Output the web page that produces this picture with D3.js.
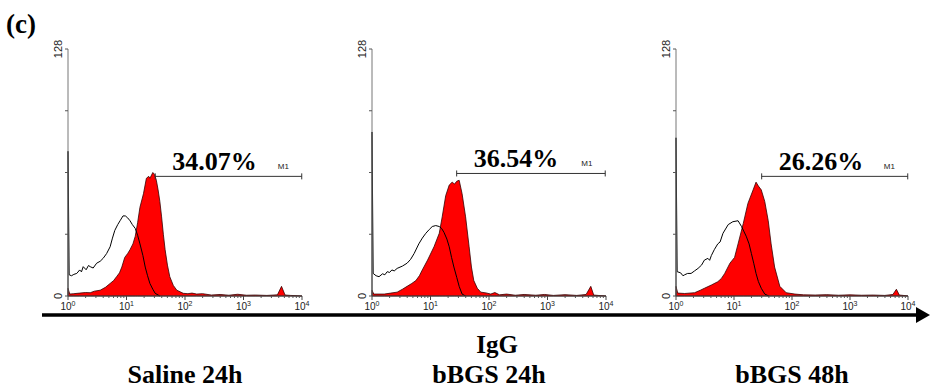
<!DOCTYPE html>
<html>
<head>
<meta charset="utf-8">
<script src="https://cdn.jsdelivr.net/npm/d3@7"></script>
<style>
  body { margin: 0; background: #fff; }
  svg { display: block; }
</style>
</head>
<body>
<svg width="930" height="389"></svg>
<script>
'use strict';

// one panel per sample
var samples = ["Saline 24h", "bBGS 24h", "bBGS 48h"];
var gatedPercent = [34.07, 36.54, 26.26];
// M1 gate: start fluorescence, end fluorescence, drawn level (counts)
var gateFrom = [31, 28, 30];
var gateTo = [9900, 9700, 9900];
var gateLevel = [62, 63.5, 62];

var countTicks = [0, 32, 64, 96, 128];
var decades = [0, 1, 2, 3, 4];

// histograms as [log10 fluorescence, events]; control = open trace, stained = red fill
var control1 = [[0,0],[0,75],[0.02,11],[0.06,10.5],[0.1,11.2],[0.15,11.7],[0.2,13.5],[0.23,12.5],[0.26,15.2],[0.31,13.6],[0.35,15.8],[0.38,15.2],[0.43,14.5],[0.49,17],[0.55,18],[0.60,19.5],[0.66,22],[0.72,25.5],[0.76,30],[0.80,34],[0.85,37],[0.89,39],[0.94,41.5],[0.98,41.5],[1.02,40.5],[1.06,39],[1.1,37],[1.15,35],[1.19,31.5],[1.23,27],[1.28,21],[1.32,15],[1.36,10.5],[1.40,6.5],[1.45,3.5],[1.49,1.4],[1.57,0]];
var stained1 = [[0,0],[0,4],[0.03,1],[0.1,1.2],[0.2,1.5],[0.3,1.8],[0.38,1.7],[0.45,2.5],[0.55,3],[0.64,4.5],[0.72,6.5],[0.78,8],[0.83,10],[0.88,12],[0.92,15],[0.97,20],[1.02,22],[1.06,24],[1.11,27],[1.15,31],[1.19,38],[1.23,46],[1.29,53],[1.34,61],[1.38,62],[1.40,61],[1.45,64],[1.48,63],[1.51,60],[1.54,55],[1.57,49],[1.60,41],[1.63,32],[1.66,24],[1.70,16],[1.74,10],[1.80,5.5],[1.86,3],[1.97,1.4],[2.05,1.2],[2.12,1.5],[2.2,1.0],[2.3,1.2],[2.45,0.5],[2.6,0.8],[2.75,0.4],[2.9,0.9],[3.05,0.4],[3.2,0.5],[3.4,0.3],[3.58,0.6],[3.65,5],[3.71,0.5],[3.8,0.3],[4,0]];

var control2 = [[0,0],[0,85],[0.02,11.7],[0.07,10.5],[0.12,10],[0.18,11.5],[0.22,11],[0.26,12.6],[0.3,12.2],[0.34,13.5],[0.38,13],[0.43,14.3],[0.52,15.5],[0.60,17],[0.66,19],[0.72,22],[0.80,27],[0.86,30],[0.92,32.5],[0.98,34.5],[1.03,36],[1.09,36.5],[1.15,36],[1.19,35],[1.23,33],[1.28,29.5],[1.32,25.5],[1.36,20],[1.40,15],[1.45,9.5],[1.49,5],[1.54,1],[1.6,0]];
var stained2 = [[0,0],[0,3],[0.03,1],[0.21,1],[0.32,1.5],[0.43,2],[0.52,3.5],[0.60,5],[0.68,6.5],[0.75,8],[0.81,10.5],[0.86,13.5],[0.95,18.6],[1.06,25.5],[1.15,32.5],[1.20,41],[1.26,52],[1.32,57.5],[1.37,59],[1.41,58],[1.45,59.5],[1.49,60],[1.54,53],[1.60,41],[1.66,25.5],[1.70,15],[1.74,8],[1.80,4],[1.86,2],[1.95,1.6],[2.03,1],[2.1,1.8],[2.18,0.6],[2.3,1],[2.45,0.4],[2.6,0.8],[2.8,0.4],[2.95,0.8],[3.1,0.3],[3.3,0.7],[3.5,0.3],[3.66,0.8],[3.74,5],[3.79,0.5],[3.9,0.2],[4,0]];

var control3 = [[0,0],[0,82],[0.02,12.6],[0.08,12],[0.12,10.5],[0.15,11],[0.2,11.7],[0.26,11.7],[0.32,13],[0.38,14.3],[0.44,16],[0.49,18.6],[0.55,19.5],[0.58,18.5],[0.61,21],[0.66,24],[0.72,27],[0.76,28],[0.81,32.5],[0.9,37],[0.98,38.5],[1.07,39],[1.13,36],[1.21,31],[1.26,27],[1.30,22],[1.34,17],[1.38,11.7],[1.42,7.5],[1.47,4],[1.53,1],[1.6,0]];
var stained3 = [[0,0],[0,5],[0.03,1.5],[0.15,1.3],[0.32,1.7],[0.42,3],[0.49,4],[0.61,5.7],[0.72,7.4],[0.78,9],[0.84,11.7],[0.93,17],[1.01,20],[1.07,27],[1.16,37.6],[1.24,48],[1.33,55],[1.38,59],[1.42,57],[1.47,55],[1.53,49],[1.59,39],[1.64,27],[1.70,15],[1.79,5],[1.90,1.7],[2.05,1],[2.2,0.6],[2.4,0.5],[2.6,0.7],[2.8,0.4],[3.0,0.6],[3.2,0.4],[3.4,0.5],[3.6,0.3],[3.74,0.8],[3.80,3.5],[3.85,0.5],[3.95,0.2],[4,0]];

var controls = [control1, control2, control3];
var stained = [stained1, stained2, stained3];

var svg = d3.select("svg");
var panelLeft = [68, 372, 676],
    panelWidth = [234, 234, 232],
    plotTop = 49, plotBottom = 296;

var y = d3.scaleLinear().domain([0, 128]).range([plotBottom, plotTop]);

svg.append("text")
    .attr("x", 6)
    .attr("y", 33)
    .attr("font-family", "Liberation Serif, serif")
    .attr("font-weight", "bold")
    .attr("font-size", 27)
    .text("(c)");

samples.forEach(function(name, i){
    var x0 = panelLeft[i];
    var x = d3.scaleLog().domain([1, 10000]).range([x0, x0 + panelWidth[i]]);
    var g = svg.append("g");
    var px = function(d){ return x(Math.pow(10, d[0])); };

    // red stained histogram
    g.append("path")
        .datum(stained[i])
        .attr("d", d3.area().x(px).y0(y(0)).y1(function(d){ return y(d[1]); }))
        .attr("fill", "#ff0000")
        .attr("stroke", "#300")
        .attr("stroke-width", 0.8);

    // open control histogram
    g.append("path")
        .datum(controls[i])
        .attr("d", d3.line().x(px).y(function(d){ return y(d[1]); }))
        .attr("fill", "none")
        .attr("stroke", "#000")
        .attr("stroke-width", 1);

    // y axis
    g.append("line")
        .attr("x1", x0).attr("x2", x0)
        .attr("y1", y(128)).attr("y2", y(0))
        .attr("stroke", "#777").attr("stroke-width", 1);
    g.selectAll(".ytick")
        .data(countTicks)
        .enter()
        .append("line")
        .attr("x1", x0 - 3).attr("x2", x0)
        .attr("y1", function(d){ return y(d); })
        .attr("y2", function(d){ return y(d); })
        .attr("stroke", "#555");
    g.selectAll(".ylab")
        .data([0, 128])
        .enter()
        .append("text")
        .attr("transform", function(d){ return "translate(" + (x0 - 6) + "," + y(d) + ") rotate(-90)"; })
        .attr("text-anchor", "middle")
        .attr("font-family", "Liberation Sans, Arial, sans-serif")
        .attr("font-size", 11)
        .attr("fill", "#222")
        .text(function(d){ return d; });

    // x axis with log minor ticks
    g.append("line")
        .attr("x1", x0).attr("x2", x0 + panelWidth[i])
        .attr("y1", plotBottom).attr("y2", plotBottom)
        .attr("stroke", "#444").attr("stroke-width", 1);
    var minor = [];
    [0, 1, 2, 3].forEach(function(p){
        for (var k = 2; k < 10; k++) minor.push(k * Math.pow(10, p));
    });
    g.selectAll(".minor")
        .data(minor)
        .enter()
        .append("line")
        .attr("x1", function(d){ return x(d); })
        .attr("x2", function(d){ return x(d); })
        .attr("y1", plotBottom).attr("y2", plotBottom + 2)
        .attr("stroke", "#555");
    g.selectAll(".major")
        .data(decades)
        .enter()
        .append("line")
        .attr("x1", function(d){ return x(Math.pow(10, d)); })
        .attr("x2", function(d){ return x(Math.pow(10, d)); })
        .attr("y1", plotBottom).attr("y2", plotBottom + 4)
        .attr("stroke", "#444");
    var xl = g.selectAll(".xlab")
        .data(decades)
        .enter()
        .append("text")
        .attr("x", function(d){ return x(Math.pow(10, d)); })
        .attr("y", 310)
        .attr("text-anchor", "middle")
        .attr("font-family", "Liberation Sans, Arial, sans-serif")
        .attr("font-size", 10)
        .attr("fill", "#222");
    xl.append("tspan").text("10");
    xl.append("tspan")
        .attr("dy", -4)
        .attr("font-size", 7)
        .text(function(d){ return d; });

    // M1 gate marker
    var gx0 = x(gateFrom[i]), gx1 = x(gateTo[i]), gy = y(gateLevel[i]);
    g.append("line")
        .attr("x1", gx0).attr("x2", gx1)
        .attr("y1", gy).attr("y2", gy)
        .attr("stroke", "#333").attr("stroke-width", 1);
    g.selectAll(".gtick")
        .data([gx0, gx1])
        .enter()
        .append("line")
        .attr("x1", function(d){ return d; })
        .attr("x2", function(d){ return d; })
        .attr("y1", gy - 3).attr("y2", gy + 3)
        .attr("stroke", "#333");
    g.append("text")
        .attr("x", gx0 + 17)
        .attr("y", gy - 6)
        .attr("font-family", "Liberation Serif, serif")
        .attr("font-weight", "bold")
        .attr("font-size", 26)
        .text(gatedPercent[i].toFixed(2) + "%");
    g.append("text")
        .attr("x", gx1 - 24)
        .attr("y", gy - 7)
        .attr("font-family", "Liberation Sans, Arial, sans-serif")
        .attr("font-size", 8)
        .attr("fill", "#222")
        .text("M1");

    // sample name under the arrow
    svg.append("text")
        .attr("x", x0 + panelWidth[i] / 2)
        .attr("y", 383)
        .attr("text-anchor", "middle")
        .attr("font-family", "Liberation Serif, serif")
        .attr("font-weight", "bold")
        .attr("font-size", 26)
        .text(name);
});

// shared fluorescence arrow
svg.append("line")
    .attr("x1", 42).attr("x2", 918)
    .attr("y1", 315).attr("y2", 315)
    .attr("stroke", "#000").attr("stroke-width", 3.5);
svg.append("path")
    .attr("d", "M916,307L930,315L916,323Z")
    .attr("fill", "#000");
svg.append("text")
    .attr("x", 497)
    .attr("y", 353)
    .attr("text-anchor", "middle")
    .attr("font-family", "Liberation Serif, serif")
    .attr("font-weight", "bold")
    .attr("font-size", 25)
    .text("IgG");
</script>
</body>
</html>
